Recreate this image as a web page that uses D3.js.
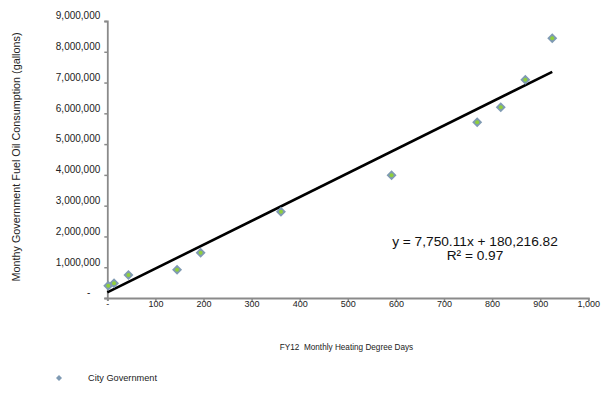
<!DOCTYPE html>
<html>
<head>
<meta charset="utf-8">
<script src="https://cdn.jsdelivr.net/npm/d3@7"></script>
<style>
  html, body { margin: 0; padding: 0; background: #fff; }
  svg { display: block; font-family: "Liberation Sans", Arial, sans-serif; }
  text { white-space: pre; }
</style>
</head>
<body>
<svg id="chart" width="605" height="410"></svg>
<script>
// Monthly heating degree days vs. monthly fuel oil use (gallons), FY12
const degreeDays = [2, 14, 44, 145, 194, 361, 591, 769, 818, 869, 925];
const fuelGallons = [400000, 480000, 750000, 920000, 1470000, 2800000, 3990000, 5710000, 6200000, 7090000, 8440000];

// Linear trendline coefficients as printed on the chart
const slope = 7750.11;
const intercept = 180216.82;

const xTicks = [0, 100, 200, 300, 400, 500, 600, 700, 800, 900, 1000];
const yTicks = [0, 1000000, 2000000, 3000000, 4000000, 5000000, 6000000, 7000000, 8000000, 9000000];

const seriesName = "City Government";
const xTitle = "FY12  Monthly Heating Degree Days";
const yTitle = "Monthy Government Fuel Oil Consumption (gallons)";

const svg = d3.select("#chart");
const plot = { left: 107.3, right: 588.3, top: 21, bottom: 298 };

const x = d3.scaleLinear().domain([0, 1000]).range([plot.left, plot.right]);
const y = d3.scaleLinear().domain([0, 9000000]).range([plot.bottom, plot.top]);

const num = d3.format(",");
const axisColor = "#8a8a8a";

// Y axis
const yAxis = svg.append("g")
  .attr("transform", `translate(${plot.left},0)`)
  .call(d3.axisLeft(y).tickValues(yTicks).tickSizeOuter(0).tickSize(3)
    .tickFormat(d => d === 0 ? "-" : num(d)));
yAxis.select(".domain").attr("stroke", axisColor).attr("stroke-width", 1.8);
yAxis.selectAll(".tick line").attr("stroke", axisColor).attr("stroke-width", 1.5);
yAxis.selectAll(".tick text")
  .attr("fill", "#222").attr("font-size", "10px")
  .attr("x", -7).attr("dy", "-0.22em")
  .filter(d => d === 0).attr("x", -17);
yAxis.attr("font-family", null);

// X axis
const xAxis = svg.append("g")
  .attr("transform", `translate(0,${plot.bottom})`)
  .call(d3.axisBottom(x).tickValues(xTicks).tickSizeOuter(0).tickSize(3)
    .tickFormat(d => d === 0 ? "-" : num(d)));
xAxis.select(".domain").attr("stroke", axisColor).attr("stroke-width", 1.8);
xAxis.selectAll(".tick line").attr("stroke", axisColor).attr("stroke-width", 1.5);
xAxis.selectAll(".tick text")
  .attr("fill", "#222").attr("font-size", "9px")
  .attr("y", 3).attr("dy", "0.71em");
xAxis.attr("font-family", null);

// Trendline from x = 0 to the largest observed degree-day value
const xMax = d3.max(degreeDays);
svg.append("line")
  .attr("x1", x(0)).attr("y1", y(intercept))
  .attr("x2", x(xMax)).attr("y2", y(slope * xMax + intercept))
  .attr("stroke", "#000").attr("stroke-width", 2.6).attr("stroke-linecap", "butt");

// Diamond markers: blue-grey diamond with a small green centre
const pts = svg.append("g");
const data = degreeDays.map((d, i) => ({ dd: d, gal: fuelGallons[i] }));
pts.selectAll("path.outer").data(data).join("path")
  .attr("class", "outer")
  .attr("transform", d => `translate(${x(d.dd)},${y(d.gal)}) rotate(45)`)
  .attr("d", d3.symbol().type(d3.symbolSquare).size(50)())
  .attr("fill", "#7f9ab3");
pts.selectAll("circle.inner").data(data).join("circle")
  .attr("class", "inner")
  .attr("cx", d => x(d.dd)).attr("cy", d => y(d.gal))
  .attr("r", 2).attr("fill", "#8fcf3c");

// Equation label
const eq = svg.append("g").attr("font-size", "13.7px").attr("fill", "#111").attr("text-anchor", "middle");
eq.append("text").attr("x", 475).attr("y", 245.5)
  .text(`y = ${d3.format(",.2f")(slope)}x + ${d3.format(",.2f")(intercept)}`);
eq.append("text").attr("x", 475).attr("y", 260)
  .text("R² = 0.97");

// Axis titles
svg.append("text")
  .attr("x", 346.5).attr("y", 350)
  .attr("text-anchor", "middle").attr("font-size", "8.2px").attr("fill", "#222")
  .text(xTitle);
svg.append("text")
  .attr("transform", "translate(20,157) rotate(-90)")
  .attr("text-anchor", "middle").attr("font-size", "10.8px").attr("fill", "#222")
  .text(yTitle);

// Legend
const lg = svg.append("g").attr("transform", "translate(59,378)");
lg.append("path")
  .attr("transform", "rotate(45)")
  .attr("d", d3.symbol().type(d3.symbolSquare).size(18)())
  .attr("fill", "#7f9ab3");
lg.append("text")
  .attr("x", 29).attr("y", 3)
  .attr("font-size", "9.2px").attr("fill", "#222")
  .text(seriesName);
</script>
</body>
</html>
